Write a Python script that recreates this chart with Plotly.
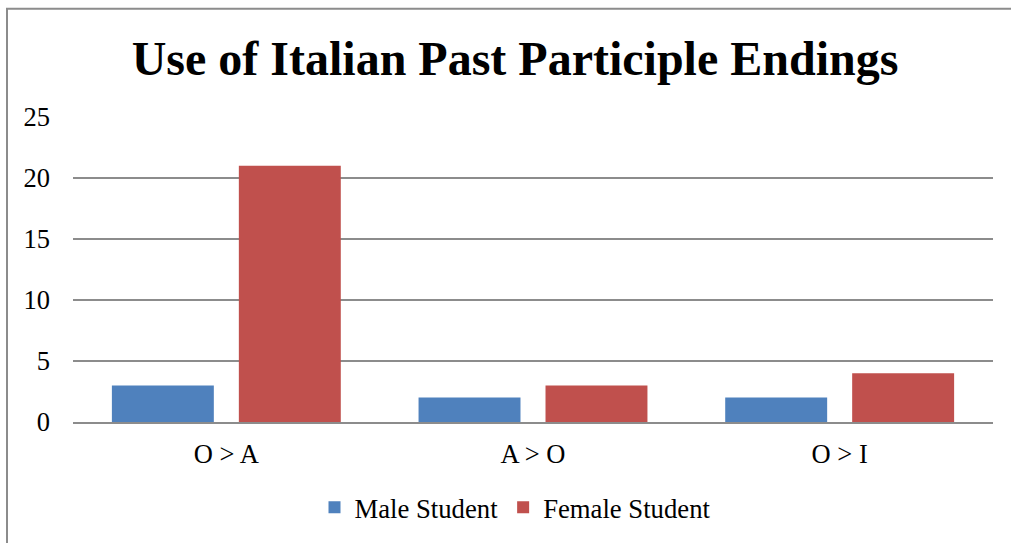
import plotly.graph_objects as go

categories = ["O > A", "A > O", "O > I"]
male_values = [3, 2, 2]
female_values = [21, 3, 4]
y_ticks = [0, 5, 10, 15, 20, 25]

W, H = 1011, 543
L, R, T, B = 73, 18, 117, 119
plot_w = W - L - R
plot_h = H - T - B

def px_x(px):
    return (px - L) / plot_w

def px_y(py):
    return (H - B - py) / plot_h

serif = "Liberation Serif"

fig = go.Figure()
fig.add_trace(go.Bar(x=categories, y=male_values, name="Male Student",
                     marker=dict(color="#4F81BD", line=dict(width=0))))
fig.add_trace(go.Bar(x=categories, y=female_values, name="Female Student",
                     marker=dict(color="#C0504D", line=dict(width=0))))

fig.update_layout(
    width=W, height=H,
    margin=dict(l=L, r=R, t=T, b=B),
    paper_bgcolor="white", plot_bgcolor="white",
    barmode="group", bargap=0.172, bargroupgap=0.197,
    font=dict(family=serif, color="black", size=26),
    showlegend=True,
    legend=dict(orientation="h", x=px_x(515), xanchor="center",
                y=px_y(510), yanchor="middle",
                font=dict(size=26.7, family=serif, color="black"),
                itemwidth=30, bgcolor="rgba(0,0,0,0)"),
    title=dict(text="<b>Use of Italian Past Participle Endings</b>",
               x=515 / W, xanchor="center",
               y=1 - 58 / H, yanchor="middle",
               font=dict(size=48, family=serif, color="black")),
)

fig.update_yaxes(range=[0, 25], tickvals=y_ticks, showgrid=True,
                 gridcolor="#8C8C8C", gridwidth=2, zeroline=False,
                 showline=False, ticks="", ticklabelstandoff=22,
                 tickfont=dict(size=26.5, family=serif, color="black"))
fig.update_xaxes(showgrid=False, showline=True, linecolor="#8C8C8C",
                 linewidth=2, ticks="",
                 tickfont=dict(size=26.5, family=serif, color="black"),
                 ticklabelstandoff=7)

# outer chart frame
fig.add_shape(type="rect", xref="paper", yref="paper",
              x0=px_x(7), x1=px_x(1020), y0=px_y(560), y1=px_y(8),
              line=dict(color="#8C8C8C", width=2), fillcolor="rgba(0,0,0,0)",
              layer="below")

fig.write_html("out.html")
